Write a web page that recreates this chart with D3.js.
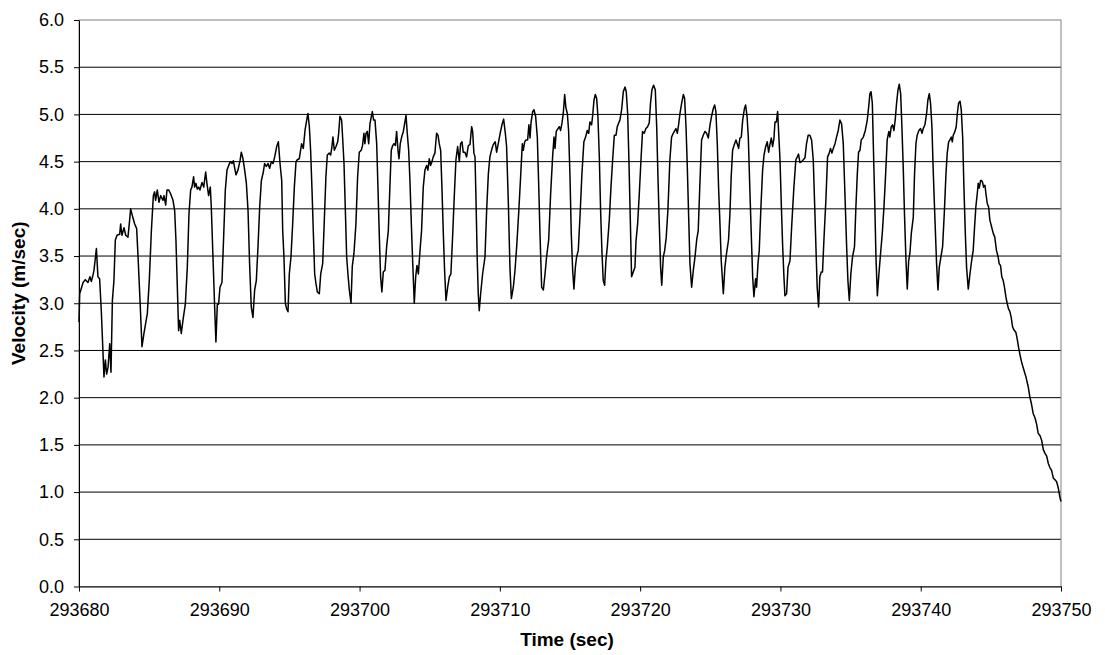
<!DOCTYPE html>
<html>
<head>
<meta charset="utf-8">
<title>Velocity (m/sec) vs Time (sec)</title>
<script src="https://d3js.org/d3.v7.min.js" charset="utf-8"></script>
<style>
  body { margin: 0; background: #fff; }
  text { font-family: "Liberation Sans", Arial, sans-serif; fill: #000; }
</style>
</head>
<body>
<script>

// time is stored as seconds after t0
var t0 = 293680;

var timeOffset = [
  0.00, 0.05, 0.29, 0.45, 0.64, 0.78, 0.88, 1.00, 1.07, 1.24, 1.35, 1.47, 1.59, 1.78, 1.88, 1.97,
  2.07, 2.19, 2.28, 2.38, 2.49, 2.59, 2.71, 2.90, 2.97, 3.06, 3.21, 3.33, 3.49, 3.61, 3.68, 3.80,
  3.97, 4.11, 4.21, 4.35, 4.49, 4.63, 4.87, 5.01, 5.16, 5.30, 5.39, 5.46, 5.58, 5.70, 5.82, 5.99,
  6.06, 6.18, 6.27, 6.39, 6.53, 6.70, 6.82, 6.91, 7.01, 7.10, 7.18, 7.29, 7.44, 7.58, 7.72, 7.84,
  7.96, 8.05, 8.17, 8.24, 8.34, 8.43, 8.53, 8.62, 8.77, 8.89, 9.03, 9.12, 9.24, 9.36, 9.43, 9.55,
  9.67, 9.76, 9.86, 9.95, 10.05, 10.19, 10.31, 10.43, 10.55, 10.67, 10.79, 10.91, 11.00, 11.10, 11.19, 11.33,
  11.48, 11.57, 11.69, 11.81, 11.93, 12.05, 12.16, 12.28, 12.40, 12.52, 12.64, 12.76, 12.88, 13.00, 13.14, 13.23,
  13.35, 13.47, 13.59, 13.71, 13.83, 13.95,
  14.09, 14.21, 14.33, 14.45, 14.52, 14.61, 14.71, 14.80, 14.90, 14.99, 15.11, 15.23, 15.35, 15.47, 15.56, 15.70,
  15.87, 15.99, 16.11, 16.23, 16.32, 16.42, 16.51, 16.61, 16.70, 16.80, 16.89, 16.99, 17.13, 17.23, 17.37, 17.46,
  17.60, 17.70, 17.84, 17.94, 18.03, 18.10, 18.20, 18.32, 18.44, 18.51, 18.60, 18.72, 18.79, 18.89, 18.98, 19.08,
  19.17, 19.27, 19.39, 19.48, 19.60, 19.74, 19.86, 19.98, 20.12, 20.21, 20.31, 20.38, 20.46, 20.55, 20.65, 20.74,
  20.84, 20.91, 21.00, 21.10, 21.22, 21.31, 21.41, 21.50, 21.59, 21.69, 21.81, 21.93, 22.05, 22.16, 22.26, 22.36,
  22.45, 22.55, 22.64, 22.74, 22.81, 22.90, 23.00, 23.12, 23.21, 23.31, 23.40, 23.50, 23.59, 23.69, 23.79, 23.90,
  24.00, 24.09, 24.19, 24.31, 24.42, 24.54, 24.66, 24.78, 24.87, 24.97, 25.06, 25.16, 25.25, 25.37, 25.49, 25.59,
  25.68, 25.78, 25.87, 25.97, 26.06, 26.16, 26.28, 26.40, 26.51, 26.63, 26.75, 26.87, 26.99, 27.11, 27.20, 27.30,
  27.39, 27.51, 27.63, 27.75,
  27.87, 27.99, 28.06, 28.15, 28.23, 28.30, 28.39, 28.46, 28.53, 28.63, 28.77, 28.94, 29.06, 29.18, 29.29, 29.44,
  29.53, 29.67, 29.77, 29.91, 30.05, 30.15, 30.27, 30.39, 30.48, 30.60, 30.72, 30.82, 30.96, 31.08, 31.20, 31.34,
  31.48, 31.60, 31.67, 31.77, 31.86, 31.98, 32.07, 32.15, 32.22, 32.34, 32.43, 32.55, 32.67, 32.76, 32.86, 32.98,
  33.10, 33.22, 33.33, 33.48, 33.62, 33.76, 33.86, 33.93, 34.02, 34.14, 34.24, 34.33, 34.43, 34.52, 34.62, 34.71,
  34.81, 34.90, 35.00, 35.09, 35.19, 35.28, 35.38, 35.47, 35.59, 35.71, 35.85, 35.99, 36.11, 36.23, 36.33, 36.42,
  36.54, 36.61, 36.71, 36.80, 36.90, 36.99, 37.09, 37.18, 37.28, 37.37, 37.47, 37.56, 37.66, 37.80, 37.92, 38.04,
  38.16, 38.28, 38.37, 38.47, 38.56, 38.68, 38.80, 38.92, 39.01, 39.11, 39.20, 39.30, 39.39, 39.51, 39.63, 39.70,
  39.82, 39.94, 40.06, 40.17, 40.29, 40.41, 40.53, 40.65, 40.74, 40.84, 40.96,
  41.08, 41.18, 41.27, 41.37, 41.46, 41.54, 41.65, 41.75, 41.86, 41.98, 42.12, 42.24, 42.36, 42.48, 42.55, 42.65,
  42.74, 42.84, 42.96, 43.08, 43.17, 43.27, 43.36, 43.46, 43.55, 43.67, 43.79, 43.91, 44.03, 44.14, 44.26, 44.38,
  44.50, 44.62, 44.74, 44.86, 44.98, 45.09, 45.21, 45.31, 45.40, 45.50, 45.59, 45.69, 45.78, 45.93, 46.04, 46.16,
  46.30, 46.40, 46.49, 46.59, 46.71, 46.83, 46.92, 47.02, 47.11, 47.21, 47.31, 47.43, 47.52, 47.62, 47.71, 47.83,
  47.92, 48.02, 48.11, 48.23, 48.30, 48.40, 48.49, 48.61, 48.73, 48.83, 48.95, 49.06, 49.16, 49.25, 49.35, 49.44,
  49.54, 49.61, 49.71, 49.80, 49.87, 49.97, 50.06, 50.16, 50.25, 50.32, 50.44, 50.54, 50.68, 50.80, 50.96, 51.10,
  51.20, 51.29, 51.39, 51.51, 51.63, 51.75, 51.86, 51.98, 52.10, 52.22, 52.34, 52.43, 52.53, 52.62, 52.72, 52.81,
  52.91, 53.00, 53.10, 53.24, 53.36, 53.48, 53.57, 53.67, 53.77, 53.89, 54.00, 54.12, 54.24, 54.36, 54.48,
  54.62, 54.72, 54.81, 54.91, 55.02, 55.14, 55.28, 55.38, 55.48, 55.57, 55.67, 55.76, 55.91, 56.05, 56.19, 56.29,
  56.38, 56.46, 56.55, 56.62, 56.72, 56.81, 56.91, 57.02, 57.14, 57.26, 57.38, 57.50, 57.61, 57.73, 57.80, 57.90,
  57.99, 58.09, 58.18, 58.28, 58.38, 58.47, 58.57, 58.66, 58.76, 58.85, 58.95, 59.04, 59.14, 59.23, 59.33, 59.47,
  59.56, 59.66, 59.75, 59.87, 59.99, 60.09, 60.18, 60.30, 60.42, 60.51, 60.61, 60.70, 60.80, 60.89, 61.01, 61.13,
  61.23, 61.32, 61.44, 61.56, 61.68, 61.80, 61.89, 61.99, 62.08, 62.18, 62.25, 62.32, 62.44, 62.53, 62.61, 62.70,
  62.80, 62.89, 62.99, 63.08, 63.18, 63.27, 63.39, 63.51, 63.63, 63.74, 63.84, 63.93, 64.03, 64.10, 64.17, 64.27,
  64.34, 64.41, 64.48, 64.58, 64.65, 64.74, 64.84, 64.93, 65.05, 65.17, 65.28, 65.40, 65.52, 65.59, 65.69, 65.78,
  65.88, 65.97, 66.07, 66.16, 66.26, 66.36, 66.45, 66.55, 66.64, 66.79, 66.88, 66.98, 67.07, 67.17, 67.26, 67.36,
  67.50, 67.67, 67.79, 67.90, 68.02, 68.14, 68.26, 68.38, 68.50, 68.62, 68.74, 68.86, 68.98, 69.10, 69.21, 69.33,
  69.45, 69.57, 69.69, 69.81, 69.93, 70.00
];

var velocity = [
  2.80, 3.10, 3.22, 3.25, 3.22, 3.28, 3.23, 3.30, 3.35, 3.58, 3.28, 3.26, 2.92, 2.22, 2.40, 2.25,
  2.32, 2.57, 2.27, 3.03, 3.24, 3.67, 3.72, 3.73, 3.84, 3.72, 3.80, 3.72, 3.70, 3.88, 4.00, 3.93,
  3.84, 3.79, 3.49, 3.03, 2.54, 2.68, 2.89, 3.24, 3.77, 4.14, 4.18, 4.09, 4.20, 4.07, 4.14, 4.09,
  4.14, 4.04, 4.20, 4.20, 4.16, 4.09, 3.98, 3.67, 3.17, 2.71, 2.82, 2.68, 2.85, 2.99, 3.38, 3.95,
  4.20, 4.23, 4.34, 4.23, 4.27, 4.21, 4.23, 4.20, 4.28, 4.23, 4.39, 4.27, 4.14, 4.23, 4.02, 3.49,
  2.96, 2.59, 2.99, 2.99, 3.17, 3.22, 3.70, 4.20, 4.41, 4.46, 4.50, 4.48, 4.51, 4.43, 4.36, 4.41,
  4.51, 4.60, 4.53, 4.41, 4.27, 3.98, 3.42, 2.96, 2.85, 3.14, 3.24, 3.60, 4.02, 4.30, 4.39, 4.48,
  4.45, 4.48, 4.43, 4.50, 4.48, 4.55,
  4.66, 4.71, 4.48, 4.30, 3.77, 3.49, 3.00, 2.94, 2.91, 3.31, 3.49, 3.84, 4.23, 4.50, 4.52, 4.53,
  4.69, 4.64, 4.83, 4.94, 5.01, 4.87, 4.62, 4.20, 3.77, 3.31, 3.21, 3.12, 3.10, 3.31, 3.42, 3.77,
  4.34, 4.57, 4.59, 4.57, 4.66, 4.76, 4.62, 4.66, 4.71, 4.80, 4.98, 4.94, 4.76, 4.48, 4.02, 3.49,
  3.31, 3.14, 3.00, 3.39, 3.53, 3.84, 4.34, 4.60, 4.62, 4.67, 4.80, 4.69, 4.80, 4.82, 4.69, 4.90,
  4.98, 5.03, 4.94, 4.94, 4.69, 4.23, 3.70, 3.28, 3.12, 3.33, 3.35, 3.60, 3.77, 4.23, 4.62, 4.67,
  4.69, 4.67, 4.82, 4.62, 4.53, 4.69, 4.76, 4.82, 4.90, 4.99, 4.80, 4.62, 4.30, 3.84, 3.42, 3.00,
  3.28, 3.40, 3.31, 3.56, 3.77, 4.23, 4.41, 4.46, 4.41, 4.53, 4.46, 4.50, 4.55, 4.59, 4.80, 4.78,
  4.69, 4.62, 4.23, 3.74, 3.35, 3.03, 3.17, 3.28, 3.31, 3.70, 4.13, 4.52, 4.66, 4.50, 4.69, 4.71,
  4.60, 4.60, 4.55, 4.67,
  4.68, 4.87, 4.82, 4.59, 4.55, 4.09, 3.45, 3.10, 2.92, 3.10, 3.31, 3.49, 3.99, 4.37, 4.55, 4.64,
  4.68, 4.71, 4.60, 4.71, 4.82, 4.89, 4.95, 4.80, 4.66, 4.09, 3.38, 3.05, 3.17, 3.35, 3.60, 3.95,
  4.34, 4.69, 4.62, 4.71, 4.73, 4.73, 4.89, 4.75, 4.91, 5.03, 5.05, 4.98, 4.76, 4.30, 3.74, 3.17,
  3.14, 3.31, 3.49, 3.67, 4.16, 4.55, 4.76, 4.64, 4.82, 4.85, 4.87, 4.83, 4.91, 5.01, 5.21, 5.07,
  5.01, 4.83, 4.34, 3.74, 3.35, 3.15, 3.38, 3.49, 3.56, 3.91, 4.37, 4.71, 4.76, 4.83, 4.80, 4.92,
  4.89, 4.98, 5.15, 5.21, 5.17, 4.98, 4.55, 3.99, 3.53, 3.24, 3.19, 3.45, 3.60, 3.88, 4.23, 4.52,
  4.78, 4.78, 4.87, 4.91, 4.94, 5.05, 5.24, 5.29, 5.24, 5.01, 4.52, 3.88, 3.28, 3.33, 3.38, 3.65,
  3.84, 4.16, 4.52, 4.82, 4.80, 4.85, 4.87, 4.91, 5.12, 5.26, 5.31,
  5.26, 4.87, 4.34, 3.81, 3.38, 3.19, 3.49, 3.56, 3.70, 3.99, 4.52, 4.76, 4.80, 4.83, 4.85, 4.80,
  4.89, 5.01, 5.12, 5.21, 5.17, 4.87, 4.45, 3.91, 3.42, 3.17, 3.35, 3.49, 3.67, 3.77, 4.27, 4.73,
  4.78, 4.82, 4.80, 4.75, 4.89, 4.98, 5.06, 5.10, 5.03, 4.69, 4.23, 3.84, 3.45, 3.10, 3.38, 3.53,
  3.67, 3.95, 4.34, 4.62, 4.68, 4.73, 4.69, 4.64, 4.75, 4.76, 4.94, 5.06, 5.10, 4.98, 4.76, 4.16,
  3.74, 3.28, 3.07, 3.26, 3.17, 3.42, 3.56, 4.02, 4.41, 4.57, 4.66, 4.71, 4.60, 4.68, 4.75, 4.66,
  4.75, 4.92, 4.92, 5.03, 4.82, 4.52, 4.06, 3.60, 3.28, 3.08, 3.10, 3.38, 3.45, 3.81, 4.23, 4.52,
  4.55, 4.58, 4.49, 4.50, 4.52, 4.54, 4.69, 4.78, 4.78, 4.73, 4.52, 4.09, 3.60, 3.17, 2.96, 3.28,
  3.33, 3.33, 3.67, 4.09, 4.55, 4.59, 4.64, 4.59, 4.64, 4.69, 4.76, 4.83, 4.94, 4.90, 4.69,
  4.06, 3.60, 3.24, 3.03, 3.31, 3.49, 3.60, 4.02, 4.37, 4.60, 4.62, 4.73, 4.76, 4.83, 4.94, 5.08,
  5.22, 5.24, 5.12, 4.69, 4.09, 3.49, 3.08, 3.31, 3.53, 3.74, 4.02, 4.37, 4.73, 4.82, 4.76, 4.87,
  4.89, 4.83, 4.94, 5.12, 5.26, 5.32, 5.22, 4.87, 4.41, 3.91, 3.45, 3.15, 3.45, 3.53, 3.74, 3.91,
  4.37, 4.69, 4.78, 4.83, 4.85, 4.80, 4.85, 4.89, 5.01, 5.15, 5.22, 5.12, 4.87, 4.41, 3.91, 3.42,
  3.14, 3.38, 3.49, 3.60, 3.95, 4.37, 4.59, 4.71, 4.73, 4.76, 4.71, 4.78, 4.82, 4.87, 5.01, 5.12,
  5.14, 5.05, 4.76, 4.23, 3.74, 3.38, 3.15, 3.31, 3.45, 3.56, 3.81, 4.02, 4.16, 4.27, 4.22, 4.30,
  4.30, 4.28, 4.23, 4.25, 4.16, 4.06, 4.02, 3.88, 3.81, 3.74, 3.70, 3.56, 3.49, 3.42, 3.40, 3.28,
  3.24, 3.17, 3.07, 3.00, 2.94, 2.91, 2.85, 2.75, 2.72, 2.69, 2.62, 2.53, 2.46, 2.39, 2.34, 2.29,
  2.22, 2.11, 2.00, 1.93, 1.83, 1.79, 1.72, 1.62, 1.60, 1.55, 1.45, 1.41, 1.38, 1.30, 1.26, 1.23,
  1.15, 1.13, 1.11, 1.04, 0.94, 0.90
];

var xTicks = [293680, 293690, 293700, 293710, 293720, 293730, 293740, 293750];
var yTicks = [0, 0.5, 1, 1.5, 2, 2.5, 3, 3.5, 4, 4.5, 5, 5.5, 6];

var dataset = timeOffset.map(function(d, i) {
  return {time: t0 + d, value: velocity[i]};
});

var margin = {top: 20, bottom: 68.5, left: 79, right: 44};
var width = 1105 - margin.left - margin.right;
var height = 655 - margin.top - margin.bottom;

var xScale = d3.scaleLinear()
  .domain([xTicks[0], xTicks[xTicks.length - 1]])
  .range([0, width]);

var yScale = d3.scaleLinear()
  .domain([0, 6])
  .range([height, 0]);

var svg = d3.select("body")
  .append("svg")
    .attr("width", 1105)
    .attr("height", 655)
  .append("g")
    .attr("transform", "translate(" + margin.left + "," + margin.top + ")");

// horizontal gridlines
svg.append("g")
  .selectAll("line")
  .data(yTicks.filter(function(d) { return d > 0 && d < 6; }))
  .enter().append("line")
    .attr("x1", 0)
    .attr("x2", width)
    .attr("y1", function(d) { return yScale(d); })
    .attr("y2", function(d) { return yScale(d); })
    .style("stroke", "#000")
    .style("stroke-width", 1);

// plot area border (grey)
svg.append("rect")
  .attr("x", 0)
  .attr("y", 0)
  .attr("width", width)
  .attr("height", height)
  .style("fill", "none")
  .style("stroke", "#808080")
  .style("stroke-width", 1);

var line = d3.line()
  .x(function(d) { return xScale(d.time); })
  .y(function(d) { return yScale(d.value); });

svg.append("path")
  .datum(dataset)
  .attr("class", "line")
  .attr("d", line)
  .style("stroke", "#000")
  .style("stroke-width", 1.5)
  .style("stroke-linejoin", "round")
  .style("fill", "none");

var xAxis = svg.append("g")
  .attr("class", "x-axis")
  .attr("transform", "translate(0," + height + ")")
  .call(d3.axisBottom(xScale)
    .tickValues(xTicks)
    .tickFormat(d3.format("d"))
    .tickSize(5)
    .tickSizeOuter(0)
    .tickPadding(12));

var yAxis = svg.append("g")
  .attr("class", "y-axis")
  .call(d3.axisLeft(yScale)
    .tickValues(yTicks)
    .tickFormat(d3.format(".1f"))
    .tickSize(5)
    .tickSizeOuter(0)
    .tickPadding(10));

svg.selectAll(".x-axis text, .y-axis text")
  .style("font-family", "'Liberation Sans', Arial, sans-serif")
  .style("font-size", "18px")
  .style("fill", "#000");

svg.selectAll(".domain, .tick line")
  .style("stroke", "#000")
  .style("stroke-width", 1);

svg.append("text")
  .attr("x", width / 2 - 3)
  .attr("y", height + 59)
  .style("text-anchor", "middle")
  .style("font-size", "19px")
  .style("font-weight", "bold")
  .text("Time (sec)");

svg.append("text")
  .attr("transform", "rotate(-90)")
  .attr("x", -height / 2 + 10)
  .attr("y", -54)
  .style("text-anchor", "middle")
  .style("font-size", "19px")
  .style("font-weight", "bold")
  .text("Velocity (m/sec)");

</script>
</body>
</html>
